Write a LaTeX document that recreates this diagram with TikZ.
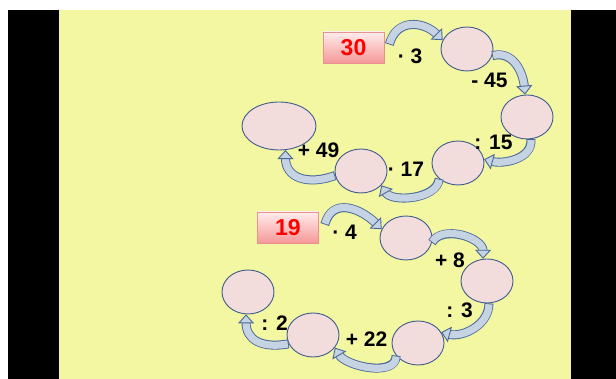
\documentclass[tikz,border=0pt]{standalone}
\usepackage{fontspec}
\setmainfont{Liberation Sans}
\usetikzlibrary{arrows.meta,shapes.geometric}
\definecolor{bgyellow}{RGB}{244,247,162}
\definecolor{ellfill}{RGB}{242,220,220}
\definecolor{ellline}{RGB}{62,92,140}
\definecolor{arrfill}{RGB}{198,211,226}
\definecolor{arrline}{RGB}{72,104,152}
\definecolor{boxline}{RGB}{232,145,145}
\definecolor{boxtop}{RGB}{255,236,236}
\definecolor{boxbot}{RGB}{246,152,152}
\newcommand\blockarrow[1]{\draw[arrout] #1; \draw[arrin] #1; \draw[arrtip] #1;}
\begin{document}
\begin{tikzpicture}[x=1pt,y=1pt,
 oval/.style={ellipse, draw=ellline, line width=0.9pt, fill=ellfill, minimum width=52pt, minimum height=44pt, inner sep=0pt},
 numbox/.style={rectangle, draw=boxline, line width=0.6pt, top color=boxtop, bottom color=boxbot, minimum width=61pt, minimum height=31pt, font=\fontsize{23}{23}\selectfont\bfseries, text=red, inner sep=0pt},
 oplabel/.style={font=\fontsize{21}{21}\selectfont\bfseries, inner sep=0pt},
 arrout/.style={line width=9pt, draw=arrline, shorten >=8pt},
 arrin/.style={line width=7.2pt, draw=arrfill, shorten >=8pt, shorten <=0.9pt},
 arrtip/.style={line width=0.3pt, draw=arrfill, shorten <=2pt, -{Triangle[length=9pt,width=16pt,line width=0.9pt,fill=arrfill,color=arrline]}}
]
\useasboundingbox (0,0) rectangle (616,379);
\fill[white] (0,0) rectangle (616,379);
\fill[black] (8,0) rectangle (59,369);
\fill[bgyellow] (59,0) rectangle (571,369);
\fill[black] (571,0) rectangle (616,369);

% top chain
\node[numbox] (b30) at (353.5,331.5) {30};
\node[oval] (e1) at (467,330) {};
\node[oval] (e2) at (527,262) {};
\node[oval] (e3) at (458,216) {};
\node[oval] (e4) at (361,208) {};
\node[oval, minimum width=74pt, minimum height=48pt] (e5) at (279,253) {};
\node[oplabel] (l1) at (410,322.5) {· 3};
\node[oplabel] (l2) at (489.5,299) {- 45};
\node[oplabel] (l3) at (493.5,236.5) {: 15};
\node[oplabel] (l4) at (406,209.5) {· 17};
\node[oplabel] (l5) at (318.5,228.5) {+ 49};

\blockarrow{([shift={(5,3)}]b30.east) to[out=75,in=135,looseness=1.3] (e1.160)}
\blockarrow{(e1.-15) to[out=15,in=95,looseness=1.1] (e2.95)}
\blockarrow{(e2.-80) to[out=-85,in=-15] (e3.8)}
\blockarrow{(e3.-140) to[out=-95,in=-60,looseness=0.9] (e4.-35)}
\blockarrow{(e4.190) to[out=200,in=-90,looseness=1.3] (e5.-75)}

% bottom chain
\node[numbox] (b19) at (288,151.5) {19};
\node[oval] (f1) at (406,141) {};
\node[oval] (f2) at (487,98) {};
\node[oval] (f3) at (418,36) {};
\node[oval] (f4) at (313,44) {};
\node[oval] (f5) at (248,87) {};
\node[oplabel] (m1) at (344.5,146.5) {· 4};
\node[oplabel] (m2) at (450,118.5) {+ 8};
\node[oplabel] (m3) at (459.5,68.5) {: 3};
\node[oplabel] (m4) at (366.5,39.5) {+ 22};
\node[oplabel] (m5) at (274.5,55.5) {: 2};

\blockarrow{([shift={(6,3)}]b19.east) to[out=75,in=135,looseness=1.3] (f1.160)}
\blockarrow{(f1.-10) to[out=60,in=90] (f2.100)}
\blockarrow{(f2.-85) to[out=-90,in=-15] (f3.25)}
\blockarrow{(f3.-150) to[out=-90,in=-60,looseness=0.9] (f4.-30)}
\blockarrow{(f4.200) to[out=190,in=-90,looseness=1.3] (f5.-95)}
\end{tikzpicture}
\end{document}
